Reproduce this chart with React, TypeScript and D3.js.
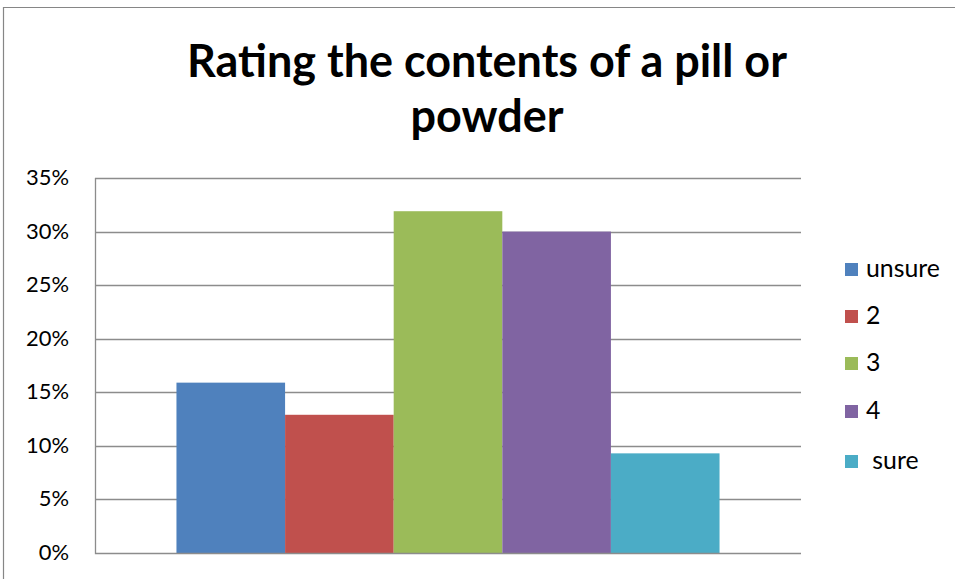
import React, { useEffect, useRef } from "react";
import * as d3 from "d3";

const TITLE_LINES = ["Rating the contents of a pill or", "powder"];
const CATEGORY = [""];
const SERIES = ["unsure", "2", "3", "4", " sure"];
const VALUES = [0.159, 0.129, 0.319, 0.30, 0.093];
const COLORS = ["#4F81BD", "#C0504D", "#9BBB59", "#8064A2", "#4BACC6"];
const Y_TICKS = [0, 0.05, 0.1, 0.15, 0.2, 0.25, 0.3, 0.35];

const W = 955;
const H = 579;
const FONT = "Lato, 'Open Sans', sans-serif";

export default function App() {
  const ref = useRef<SVGSVGElement | null>(null);

  useEffect(() => {
    const svg = d3.select(ref.current);
    svg.selectAll("*").remove();

    const left = 95, right = 801, top = 178, bottom = 553;

    svg.append("rect").attr("width", W).attr("height", H).attr("fill", "#fff");

    // chart frame
    svg.append("path")
      .attr("d", `M3.5,${H}V7.5H${W}`)
      .attr("fill", "none").attr("stroke", "#868686").attr("stroke-width", 1.2);

    const y = d3.scaleLinear().domain([0, 0.35]).range([bottom, top]);
    const x0 = d3.scaleBand<string>().domain(CATEGORY).range([left, right]).paddingInner(0).paddingOuter(0.15);
    const x1 = d3.scaleBand<string>().domain(SERIES).range([0, x0.bandwidth()]).padding(0);

    // gridlines
    svg.append("g").selectAll("line").data(Y_TICKS.slice(1)).join("line")
      .attr("x1", left).attr("x2", right)
      .attr("y1", d => Math.round(y(d)) + 0.5).attr("y2", d => Math.round(y(d)) + 0.5)
      .attr("stroke", "#8c8c8c").attr("stroke-width", 1.3);

    // bars
    const g = svg.append("g").attr("transform", `translate(${x0(CATEGORY[0])},0)`);
    g.selectAll("rect").data(SERIES).join("rect")
      .attr("x", d => x1(d)!)
      .attr("width", x1.bandwidth())
      .attr("y", (d, i) => y(VALUES[i]))
      .attr("height", (d, i) => bottom - y(VALUES[i]))
      .attr("fill", (d, i) => COLORS[i]);

    // axes lines
    svg.append("path")
      .attr("d", `M${left + 0.5},${top}V${bottom + 0.5}H${right}`)
      .attr("fill", "none").attr("stroke", "#8c8c8c").attr("stroke-width", 1.3);

    const measureSize = (text: string, weight: string, base: number, target: number) => {
      const tmp = svg.append("text").attr("font-family", FONT).attr("font-weight", weight)
        .attr("font-size", base).style("white-space", "pre").text(text);
      const len = (tmp.node() as SVGTextElement).getComputedTextLength();
      tmp.remove();
      return len > 0 ? base * target / len : base;
    };

    // y tick labels
    const tickFs = measureSize("35%", "normal", 20, 43);
    svg.append("g").selectAll("text").data(Y_TICKS).join("text")
      .attr("x", 69).attr("y", d => y(d) + 7)
      .attr("text-anchor", "end")
      .attr("font-family", FONT).attr("font-size", tickFs).attr("fill", "#000")
      .text(d => d3.format(".0%")(d));

    // title
    const titleFs = measureSize(TITLE_LINES[0], "bold", 42, 600);
    svg.append("g").selectAll("text").data(TITLE_LINES).join("text")
      .attr("x", 487).attr("y", (d, i) => 77 + i * 55).attr("text-anchor", "middle")
      .attr("font-family", FONT).attr("font-weight", "bold").attr("font-size", titleFs)
      .attr("fill", "#000").text(d => d);

    // legend
    const ly = [270, 317, 364, 412, 462];
    const legFs = measureSize(SERIES[0], "normal", 20, 74);
    SERIES.forEach((s, i) => {
      svg.append("rect")
        .attr("x", 845).attr("y", ly[i] - 7).attr("width", 13).attr("height", 13)
        .attr("fill", COLORS[i]);
      svg.append("text")
        .attr("x", 866).attr("y", ly[i] + 7)
        .attr("font-family", FONT).attr("font-size", legFs).attr("fill", "#000")
        .style("white-space", "pre")
        .text(s);
    });
  }, []);

  return (
    <svg ref={ref} width={W} height={H}
      style={{ position: "absolute", left: 0, top: 0, display: "block" }} />
  );
}
